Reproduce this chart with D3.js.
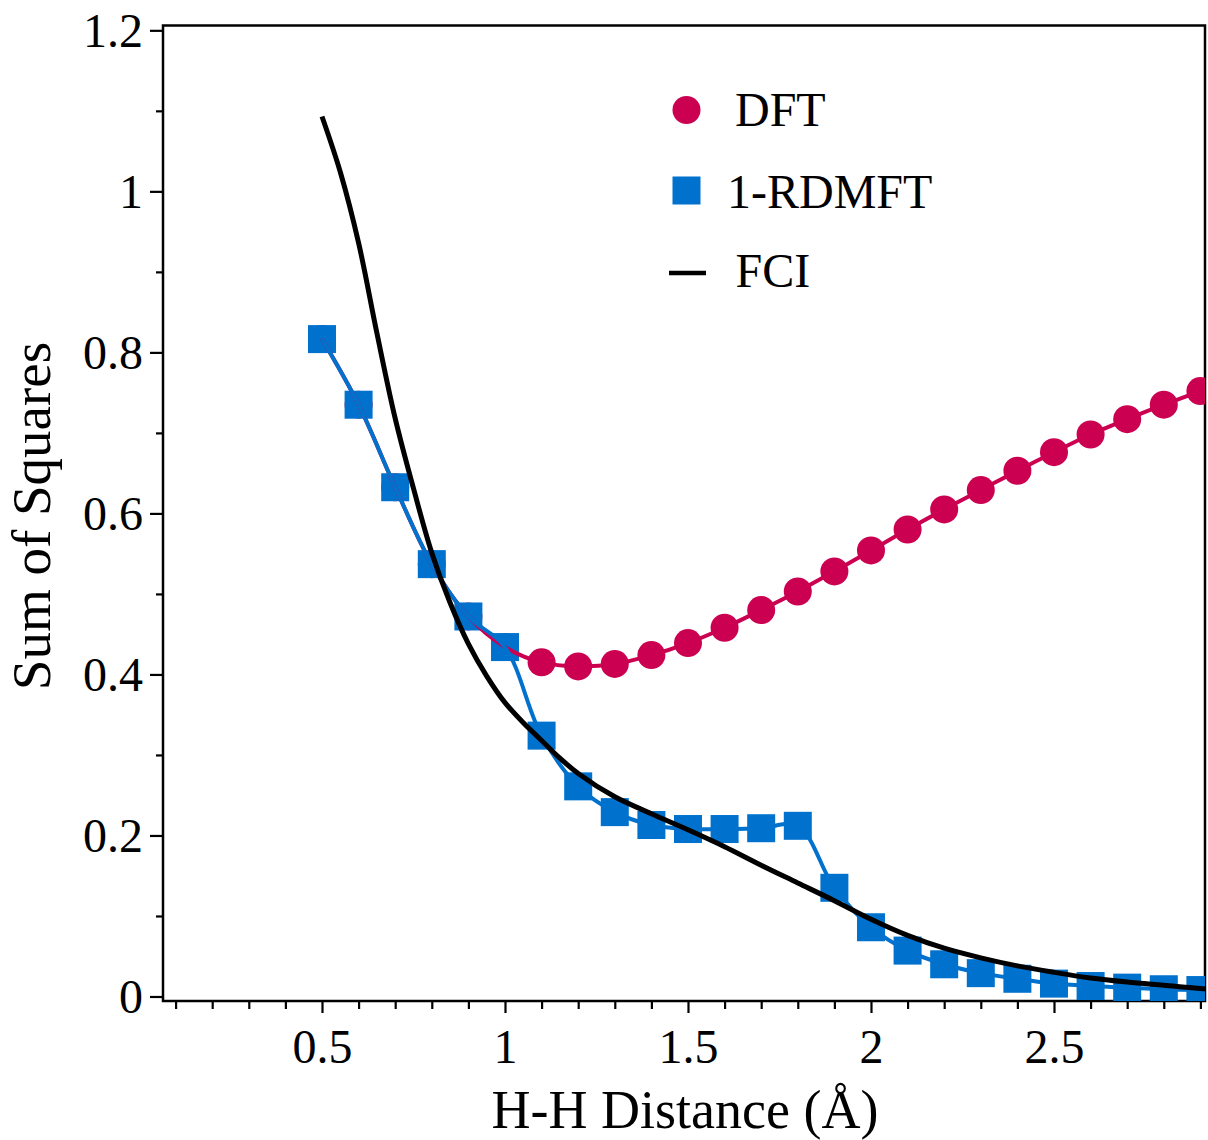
<!DOCTYPE html>
<html>
<head>
<meta charset="utf-8">
<script src="https://cdn.jsdelivr.net/npm/d3@7"></script>
<style>
  html, body { margin: 0; padding: 0; background: #fff; }
  svg { display: block; }
  text { font-family: "Liberation Serif", "Times New Roman", serif; fill: #000; }
</style>
</head>
<body>
<svg id="chart" width="1208" height="1140"></svg>
<script>
// H-H distance grid (Å) shared by the DFT and 1-RDMFT series
const distances = [0.5, 0.6, 0.7, 0.8, 0.9, 1.0, 1.1, 1.2, 1.3, 1.4, 1.5, 1.6, 1.7,
                   1.8, 1.9, 2.0, 2.1, 2.2, 2.3, 2.4, 2.5, 2.6, 2.7, 2.8, 2.9];

const dftValues = [0.8165, 0.735, 0.6325, 0.537, 0.472, 0.434, 0.415, 0.410, 0.413,
                   0.424, 0.439, 0.458, 0.480, 0.503, 0.528, 0.554, 0.580, 0.605,
                   0.629, 0.653, 0.676, 0.698, 0.717, 0.735, 0.752];

const rdmftValues = [0.8165, 0.735, 0.6325, 0.537, 0.472, 0.434, 0.324, 0.261, 0.229,
                     0.213, 0.208, 0.208, 0.209, 0.212, 0.135, 0.086, 0.057, 0.040,
                     0.029, 0.022, 0.016, 0.013, 0.011, 0.009, 0.008];

// FCI reference curve
const fciDistances = [0.5, 0.55, 0.6, 0.65, 0.7, 0.75, 0.8, 0.85, 0.9, 0.95, 1.0, 1.05,
                      1.1, 1.15, 1.2, 1.3, 1.4, 1.5, 1.6, 1.7, 1.8, 1.9, 2.0, 2.1, 2.2,
                      2.3, 2.4, 2.5, 2.6, 2.7, 2.8, 2.9, 2.92];
const fciValues = [1.093, 1.024, 0.936, 0.824, 0.718, 0.631, 0.551, 0.489, 0.438, 0.398,
                   0.365, 0.340, 0.318, 0.296, 0.277, 0.248, 0.227, 0.207, 0.186, 0.163,
                   0.141, 0.119, 0.096, 0.076, 0.060, 0.048, 0.038, 0.030, 0.023, 0.018,
                   0.014, 0.010, 0.0095];

// axis ticks
const xMajorTicks = [0.5, 1, 1.5, 2, 2.5];
const xMinorTicks = [0.1, 0.2, 0.3, 0.4, 0.6, 0.7, 0.8, 0.9, 1.1, 1.2, 1.3, 1.4, 1.6,
                     1.7, 1.8, 1.9, 2.1, 2.2, 2.3, 2.4, 2.6, 2.7, 2.8, 2.9];
const yMajorTicks = [0, 0.2, 0.4, 0.6, 0.8, 1, 1.2];
const yMinorTicks = [0.1, 0.3, 0.5, 0.7, 0.9, 1.1];

const legendLabels = ["DFT", "1-RDMFT", "FCI"];

const RED = "#cc0050";
const BLUE = "#0072ce";

const svg = d3.select("#chart");
const plot = { left: 163, right: 1205, top: 25.5, bottom: 1001 };

const x = d3.scaleLinear().domain([0.0656, 2.9126]).range([plot.left, plot.right]);
const y = d3.scaleLinear().domain([-0.0056, 1.206]).range([plot.bottom, plot.top]);

svg.append("defs").append("clipPath").attr("id", "plotClip")
  .append("rect")
  .attr("x", plot.left).attr("y", plot.top)
  .attr("width", plot.right - plot.left).attr("height", plot.bottom - plot.top);

const fmt = d => String(+d.toFixed(2));

// x axis: major and minor ticks
const xMajor = svg.append("g").attr("transform", `translate(0,${plot.bottom})`)
  .call(d3.axisBottom(x).tickValues(xMajorTicks).tickSize(12).tickSizeOuter(0).tickFormat(fmt));
const xMinor = svg.append("g").attr("transform", `translate(0,${plot.bottom})`)
  .call(d3.axisBottom(x).tickValues(xMinorTicks).tickSize(8).tickSizeOuter(0).tickFormat(""));

// y axis: major and minor ticks
const yMajor = svg.append("g").attr("transform", `translate(${plot.left},0)`)
  .call(d3.axisLeft(y).tickValues(yMajorTicks).tickSize(13).tickSizeOuter(0).tickFormat(fmt));
const yMinor = svg.append("g").attr("transform", `translate(${plot.left},0)`)
  .call(d3.axisLeft(y).tickValues(yMinorTicks).tickSize(7).tickSizeOuter(0).tickFormat(""));

[xMajor, xMinor, yMajor, yMinor].forEach(g => {
  g.select(".domain").remove();
  g.selectAll(".tick line").attr("stroke", "#000").attr("stroke-width", 2.2);
});
xMajor.selectAll(".tick text")
  .attr("y", 62).attr("dy", null)
  .style("font-size", "48px").style("font-family", "Liberation Serif");
yMajor.selectAll(".tick text")
  .attr("x", -20).attr("dy", "0.33em")
  .style("font-size", "48px").style("font-family", "Liberation Serif");

// frame
svg.append("rect")
  .attr("x", plot.left).attr("y", plot.top)
  .attr("width", plot.right - plot.left).attr("height", plot.bottom - plot.top)
  .attr("fill", "none").attr("stroke", "#000").attr("stroke-width", 2.5);

// axis titles
svg.append("text")
  .attr("x", 685).attr("y", 1128)
  .attr("text-anchor", "middle")
  .style("font-size", "54px")
  .text("H-H Distance (Å)");

svg.append("text")
  .attr("transform", "translate(50,516) rotate(-90)")
  .attr("text-anchor", "middle")
  .style("font-size", "55px")
  .text("Sum of Squares");

const dftData = distances.map((d, i) => ({ x: d, y: dftValues[i] }));
const rdmftData = distances.map((d, i) => ({ x: d, y: rdmftValues[i] }));
const fciData = fciDistances.map((d, i) => ({ x: d, y: fciValues[i] }));

const line = d3.line().x(d => x(d.x)).y(d => y(d.y)).curve(d3.curveCatmullRom.alpha(0.5));

const layer = svg.append("g").attr("clip-path", "url(#plotClip)");

// DFT markers
layer.append("g").selectAll("circle").data(dftData).join("circle")
  .attr("cx", d => x(d.x)).attr("cy", d => y(d.y)).attr("r", 14)
  .attr("fill", RED);

// 1-RDMFT markers
const sq = 28;
layer.append("g").selectAll("rect").data(rdmftData).join("rect")
  .attr("x", d => x(d.x) - sq / 2).attr("y", d => y(d.y) - sq / 2)
  .attr("width", sq).attr("height", sq)
  .attr("fill", BLUE);

// connecting lines
layer.append("path").datum(dftData).attr("d", line)
  .attr("fill", "none").attr("stroke", RED).attr("stroke-width", 4);
layer.append("path").datum(rdmftData).attr("d", line)
  .attr("fill", "none").attr("stroke", BLUE).attr("stroke-width", 4);

// FCI curve
layer.append("path").datum(fciData)
  .attr("d", d3.line().x(d => x(d.x)).y(d => y(d.y)).curve(d3.curveCatmullRom.alpha(0.5)))
  .attr("fill", "none").attr("stroke", "#000").attr("stroke-width", 5);

// legend
const legend = svg.append("g");
legend.append("circle").attr("cx", 686.5).attr("cy", 110).attr("r", 14).attr("fill", RED);
legend.append("rect").attr("x", 686.5 - sq / 2).attr("y", 190.5 - sq / 2)
  .attr("width", sq).attr("height", sq).attr("fill", BLUE);
legend.append("line").attr("x1", 669).attr("x2", 706).attr("y1", 273).attr("y2", 273)
  .attr("stroke", "#000").attr("stroke-width", 4.5);

const legendPos = [[735, 126], [727, 207.5], [735.5, 286.5]];
legend.selectAll("text.leg").data(legendLabels).join("text")
  .attr("class", "leg")
  .attr("x", (d, i) => legendPos[i][0]).attr("y", (d, i) => legendPos[i][1])
  .style("font-size", "48px")
  .text(d => d);
</script>
</body>
</html>
